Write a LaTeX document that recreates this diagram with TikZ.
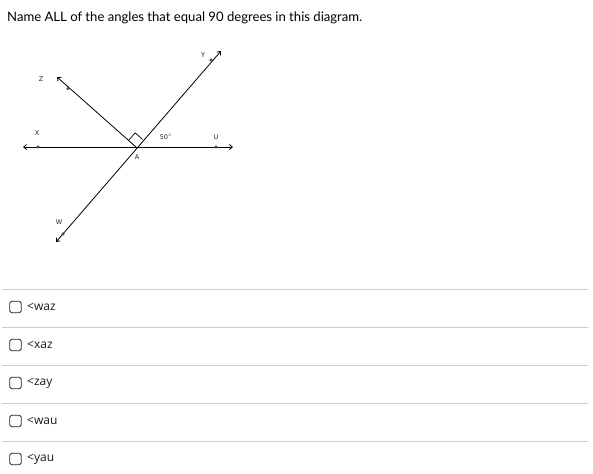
\documentclass[tikz,border=0pt]{standalone}
\usepackage{fontspec}
\setmainfont{Lato}
\newfontfamily\optfont{Open Sans}
\newfontfamily\lblfont{DejaVu Sans}
\usetikzlibrary{arrows.meta,calc}
\tikzset{
  geo/.style={line width=0.8pt, black},
  tip/.style={-{Straight Barb[length=3pt,width=5pt]}},
  lbl/.style={font=\lblfont\fontsize{6.5}{7}\selectfont, inner sep=0pt, text=black!85},
  ptdot/.style={circle, draw=black!80, line width=0.4pt, fill=black!60, minimum size=2.6pt, inner sep=0pt},
  sep/.style={line width=0.8pt, draw=black!20},
  cbox/.style={draw=black!85, line width=0.9pt, rounded corners=1.8pt, minimum size=11.5pt, inner sep=0pt},
  opt/.style={font=\optfont\fontsize{12}{14}\selectfont, anchor=west, inner sep=0pt, text=black!90}
}
\begin{document}
\begin{tikzpicture}[x=1pt,y=-1pt]
\useasboundingbox[fill=white] (0,0) rectangle (593,473);
\node[anchor=west, inner sep=0pt, font=\fontsize{13.1}{15}\selectfont] (title) at (7,18) {Name ALL of the angles that equal 90 degrees in this diagram.};
% diagram
\coordinate (A) at (136,147);
\coordinate (Lend) at (23,147);
\coordinate (Rend) at (233,147);
\coordinate (Zend) at (57,77);
\coordinate (Yend) at (221,51);
\coordinate (Wend) at (56,242);
\draw[geo,{Straight Barb[length=3pt,width=5pt]}-{Straight Barb[length=3pt,width=5pt]}] (Lend) -- (Rend);
\draw[geo,tip] (A) -- (Zend);
\draw[geo,{Straight Barb[length=3pt,width=5pt]}-{Straight Barb[length=3pt,width=5pt]}] (Wend) -- (Yend);
% right angle marker
\coordinate (m1) at ($(A)!10pt!(Zend)$);
\coordinate (m3) at ($(A)!10pt!(Yend)$);
\coordinate (m2) at ($(m1)+(m3)-(A)$);
\draw[line width=0.7pt] (m1) -- (m2) -- (m3);
\node[ptdot] (Xd) at (38,147) {};
\node[ptdot] (Ud) at (216,147) {};
\node[ptdot] (Zd) at (68,88.5) {};
\node[ptdot] (Yd) at (211,60) {};
\node[ptdot] (Wd) at (63,234) {};
\node[lbl] (Xl) at (37,133) {X};
\node[lbl] (Ul) at (216,137) {U};
\node[lbl] (Zl) at (41,79) {Z};
\node[lbl] (Yl) at (203,55) {Y};
\node[lbl] (Wl) at (59,222) {W};
\node[lbl] (Al) at (137,157) {A};
\node[lbl] (ang) at (166,137) {50$^{\circ}$};
% options
\foreach \y/\t [count=\i] in {307/{<waz}, 345/{<xaz}, 383/{<zay}, 421/{<wau}, 459/{<yau}} {
  \draw[sep] (2,\y-18) -- (588,\y-18);
  \node[cbox] (cb\i) at (15.5,\y) {};
  \node[opt] (op\i) at (27,\y) {\t};
}
\end{tikzpicture}
\end{document}
